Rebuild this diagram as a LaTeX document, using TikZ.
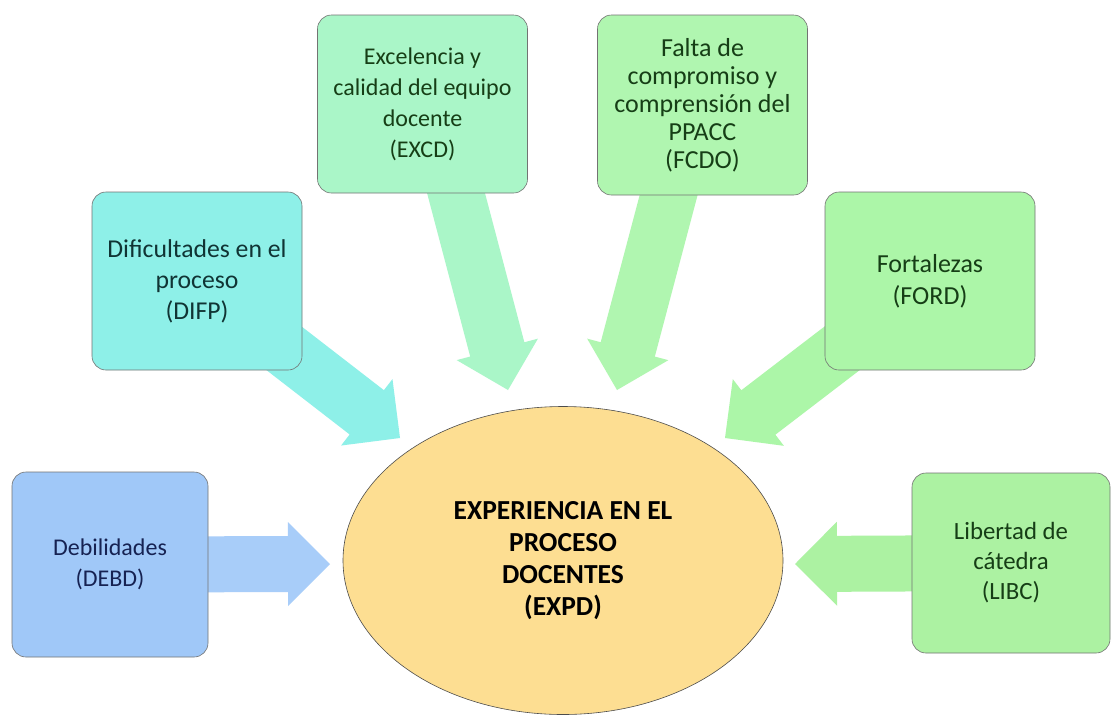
\documentclass[tikz,border=0pt]{standalone}
\usepackage{fontspec}
\setmainfont{Carlito}
\usepackage{tikz}
\usetikzlibrary{shapes,calc,backgrounds}

\definecolor{debdfill}{RGB}{160,200,248}
\definecolor{difpfill}{RGB}{142,240,232}
\definecolor{excdfill}{RGB}{170,246,200}
\definecolor{fcdofill}{RGB}{176,246,176}
\definecolor{fordfill}{RGB}{172,246,168}
\definecolor{libcfill}{RGB}{172,242,162}
\definecolor{expdfill}{RGB}{253,222,146}
\definecolor{navytext}{RGB}{22,34,82}
\definecolor{tealtext}{RGB}{16,52,52}
\definecolor{greentext}{RGB}{22,62,22}

\tikzstyle{box}=[
	rectangle,
	rounded corners=14pt,
	draw=black!55,
	line width=0.6pt,
	minimum width=210pt,
	minimum height=178pt,
	inner sep=2pt,
	align=center,
	font=\fontsize{24}{31}\selectfont
]
\tikzstyle{centre}=[
	ellipse,
	draw=black!70,
	line width=0.6pt,
	fill=expdfill,
	minimum width=440pt,
	minimum height=308pt,
	align=center,
	font=\bfseries\fontsize{27.5}{32}\selectfont
]

% wide arrow with a triangular head, from #1 to the tip #2
\newcommand{\bigarrow}[3]{%
	\coordinate (hb) at ($(#2)!42pt!(#1)$);
	\fill[#3] ($(#1)!28pt!90:(#2)$) -- ($(hb)!28pt!90:(#2)$)
		-- ($(hb)!42pt!90:(#2)$) -- (#2) -- ($(hb)!42pt!-90:(#2)$)
		-- ($(hb)!28pt!-90:(#2)$) -- ($(#1)!28pt!-90:(#2)$) -- cycle;
}

\begin{document}
\begin{tikzpicture}[x=1pt,y=-1pt]
\useasboundingbox (0,0) rectangle (1112,716);

\node[centre] (EXPD) at (563,560.5) {EXPERIENCIA EN EL\\PROCESO\\DOCENTES\\(EXPD)};

\node[box, fill=debdfill, text=navytext, minimum width=196pt, minimum height=185pt] (DEBD) at (110,564.5) {Debilidades\\(DEBD)};
\node[box, fill=difpfill, text=tealtext, font=\fontsize{25.7}{31}\selectfont] (DIFP) at (197,281) {Dificultades en el\\proceso\\(DIFP)};
\node[box, fill=excdfill, text=greentext] (EXCD) at (422.5,104) {Excelencia y\\calidad del equipo\\docente\\(EXCD)};
\node[box, fill=fcdofill, text=greentext, minimum height=180pt, font=\fontsize{26}{28}\selectfont] (FCDO) at (702.5,105) {Falta de\\compromiso y\\comprensión del\\PPACC\\(FCDO)};
\node[box, fill=fordfill, text=greentext, font=\fontsize{26}{32}\selectfont] (FORD) at (930,281) {Fortalezas\\(FORD)};
\node[box, fill=libcfill, text=greentext, minimum width=198pt, minimum height=180pt, font=\fontsize{24.8}{30}\selectfont] (LIBC) at (1011,563) {Libertad de\\cátedra\\(LIBC)};

% arrow tips, short of the ellipse
\coordinate (tDEBD) at (330,564);
\coordinate (tDIFP) at (400,438);
\coordinate (tEXCD) at (508,390);
\coordinate (tFCDO) at (617,390);
\coordinate (tFORD) at (725,438);
\coordinate (tLIBC) at (795,564);
\coordinate (sEXCD) at ([xshift=10pt]EXCD.center);
\coordinate (sFCDO) at ([xshift=-10pt]FCDO.center);

\begin{scope}[on background layer]
	\fill[white] (0,0) rectangle (1112,716);
	\bigarrow{DEBD.center}{tDEBD}{debdfill!92!white}
	\bigarrow{DIFP.center}{tDIFP}{difpfill}
	\bigarrow{sEXCD}{tEXCD}{excdfill}
	\bigarrow{sFCDO}{tFCDO}{fcdofill}
	\bigarrow{FORD.center}{tFORD}{fordfill}
	\bigarrow{LIBC.center}{tLIBC}{libcfill}
\end{scope}
\end{tikzpicture}
\end{document}
